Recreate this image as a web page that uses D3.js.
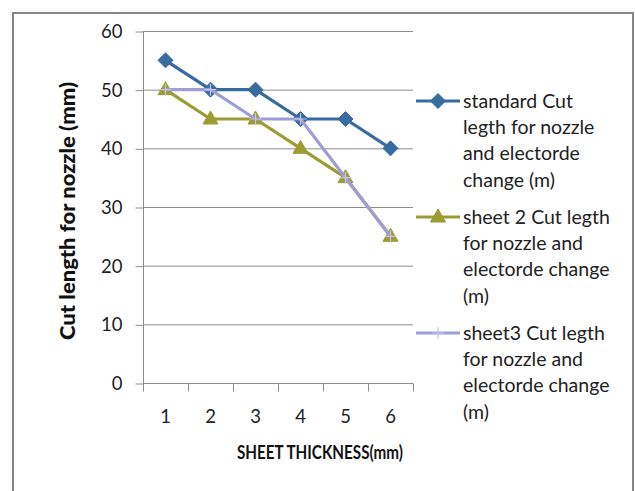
<!DOCTYPE html>
<html>
<head>
<meta charset="utf-8">
<script src="https://cdn.jsdelivr.net/npm/d3@7"></script>
<style>
  html, body { margin: 0; padding: 0; background: #fff; }
  svg { display: block; font-family: Lato, "Open Sans", sans-serif; }
</style>
</head>
<body>
<svg id="chart" width="635" height="491"></svg>
<script>
const categories = [1, 2, 3, 4, 5, 6];
const standardValues = [55, 50, 50, 45, 45, 40];
const sheet2Values = [50, 45, 45, 40, 35, 25];
const sheet3Values = [50, 50, 45, 45, 35, 25];
const yTicks = [0, 10, 20, 30, 40, 50, 60];
const seriesNames = [
  ["standard Cut", "legth for nozzle", "and electorde", "change (m)"],
  ["sheet 2 Cut legth", "for nozzle and", "electorde change", "(m)"],
  ["sheet3 Cut legth", "for nozzle and", "electorde change", "(m)"]
];
const xTitle = "SHEET THICKNESS(mm)";
const yTitle = "Cut length for nozzle (mm)";

const series = [
  { values: standardValues, color: "#386ca0", marker: "diamond", label: seriesNames[0] },
  { values: sheet2Values, color: "#9c9c32", marker: "triangle", label: seriesNames[1] },
  { values: sheet3Values, color: "#9e9ed6", marker: "plus", label: seriesNames[2] }
];

const svg = d3.select("#chart");

// outer frame
svg.append("rect")
  .attr("x", 13).attr("y", 13).attr("width", 620).attr("height", 500)
  .attr("fill", "#fff").attr("stroke", "#868686").attr("stroke-width", 2);

const x = d3.scaleBand().domain(categories).range([143, 413]).padding(0);
const y = d3.scaleLinear().domain([0, 60]).range([383, 31]);
const cx = c => x(c) + x.bandwidth() / 2;

// gridlines
svg.append("g").selectAll("line")
  .data(yTicks.filter(t => t > 0))
  .join("line")
  .attr("x1", 143).attr("x2", 413)
  .attr("y1", d => y(d) + 0.5).attr("y2", d => y(d) + 0.5)
  .attr("stroke", "#8c8c8c").attr("stroke-width", 1);

// y axis
const yAxis = svg.append("g")
  .attr("transform", "translate(143.5,0.5)")
  .call(d3.axisLeft(y).tickValues(yTicks).tickSize(8).tickPadding(13).tickFormat(d3.format("d")));
yAxis.select(".domain").attr("stroke", "#8c8c8c").attr("d", `M0,${y(60)}V${y(0)}`);
yAxis.selectAll(".tick line").attr("stroke", "#8c8c8c");
yAxis.selectAll(".tick text")
  .attr("font-family", "Lato, sans-serif").attr("font-size", 18.5).attr("fill", "#222");

// x axis
const xAxis = svg.append("g")
  .attr("transform", `translate(0,${y(0) + 0.5})`)
  .call(d3.axisBottom(x).tickSize(0).tickPadding(26));
xAxis.select(".domain").attr("stroke", "#8c8c8c").attr("d", `M143,0H413`);
xAxis.selectAll(".tick text")
  .attr("font-family", "Lato, sans-serif").attr("font-size", 18.5).attr("fill", "#222");
const boundaries = categories.map(c => x(c)).concat([x.range()[1]]);
xAxis.append("g").selectAll("line")
  .data(boundaries)
  .join("line")
  .attr("x1", d => Math.round(d) + 0.5).attr("x2", d => Math.round(d) + 0.5)
  .attr("y1", 0).attr("y2", 8)
  .attr("stroke", "#8c8c8c");

// axis titles
svg.append("text")
  .attr("x", 320).attr("y", 453).attr("dy", "0.35em")
  .attr("text-anchor", "middle")
  .attr("font-weight", "bold").attr("font-size", 18.5).attr("fill", "#111")
  .attr("textLength", 166).attr("lengthAdjust", "spacingAndGlyphs")
  .text(xTitle);

svg.append("text")
  .attr("transform", "translate(68,211) rotate(-90)")
  .attr("dy", "0.35em")
  .attr("text-anchor", "middle")
  .attr("font-weight", "900").attr("font-size", 20.5).attr("fill", "#111")
  .attr("textLength", 258).attr("lengthAdjust", "spacingAndGlyphs")
  .text(yTitle);

// marker drawing
function drawMarker(g, type, color, px, py) {
  if (type === "diamond") {
    g.append("path")
      .attr("d", `M${px},${py - 7.5}L${px + 7.5},${py}L${px},${py + 7.5}L${px - 7.5},${py}Z`)
      .attr("fill", color).attr("stroke", color).attr("stroke-width", 1);
  } else if (type === "triangle") {
    g.append("path")
      .attr("d", `M${px},${py - 8}L${px + 7.5},${py + 5}L${px - 7.5},${py + 5}Z`)
      .attr("fill", color).attr("stroke", color).attr("stroke-width", 1);
  } else if (type === "plus") {
    g.append("path")
      .attr("d", `M${px - 6},${py}H${px + 6}M${px},${py - 6}V${py + 6}`)
      .attr("fill", "none").attr("stroke", "#c4c4ea").attr("stroke-width", 1.2);
  }
}

// series lines + markers
const line = d3.line().x((d, i) => cx(categories[i])).y(d => y(d));
series.forEach(s => {
  const g = svg.append("g");
  g.append("path")
    .attr("d", line(s.values))
    .attr("fill", "none").attr("stroke", s.color).attr("stroke-width", 3.2)
    .attr("stroke-linejoin", "round");
  s.values.forEach((v, i) => drawMarker(g, s.marker, s.color, cx(categories[i]), y(v)));
});

// legend
const legendTop = [101, 217, 333];
series.forEach((s, k) => {
  const g = svg.append("g");
  const ly = legendTop[k];
  g.append("line")
    .attr("x1", 416).attr("x2", 460).attr("y1", ly).attr("y2", ly)
    .attr("stroke", s.color).attr("stroke-width", 3.2);
  drawMarker(g, s.marker, s.color, 438, ly);
  s.label.forEach((t, j) => {
    g.append("text")
      .attr("x", 463).attr("y", ly + j * 26.3).attr("dy", "0.35em")
      .attr("font-family", "Lato, sans-serif").attr("font-size", 19.5).attr("fill", "#222")
      .text(t);
  });
});
</script>
</body>
</html>
